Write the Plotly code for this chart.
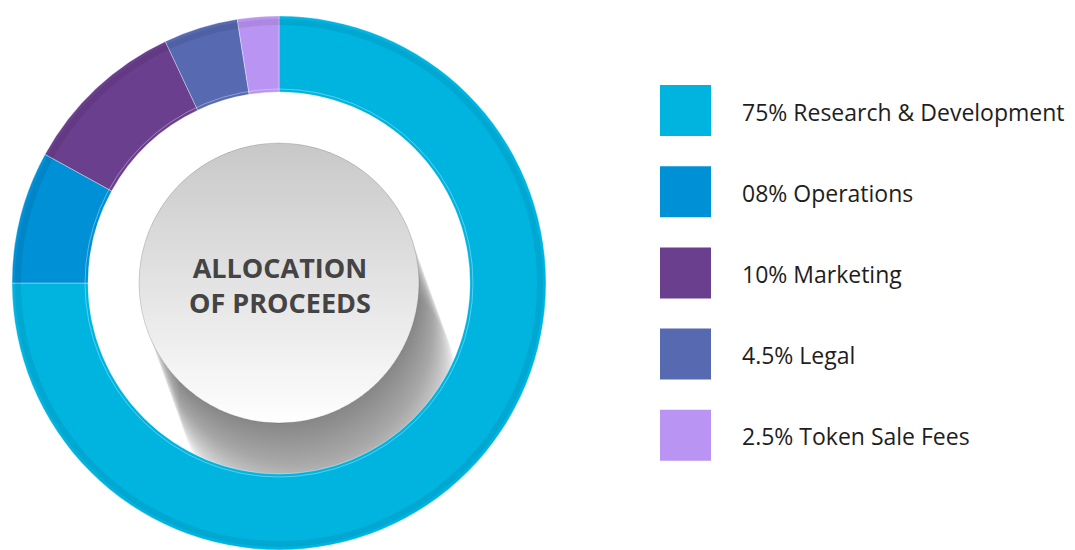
import math
import plotly.graph_objects as go

# ---------------- data ----------------
categories = ["Research & Development", "Operations", "Marketing", "Legal", "Token Sale Fees"]
values = [75, 8, 10, 4.5, 2.5]
legend_labels = ["75% Research & Development", "08% Operations", "10% Marketing",
                 "4.5% Legal", "2.5% Token Sale Fees"]
colors = ["#00b4e0", "#0090d5", "#6a3f8e", "#5669b1", "#b994f2"]
center_title = "ALLOCATION<br>OF PROCEEDS"

# ---------------- geometry (pixels) ----------------
W, H = 1075, 550
CX, CY = 279, 283
R_OUT = 267
R_IN = 191
R_DISC = 140

fig = go.Figure()

# invisible scatter to create pixel-based axes for decorations
fig.add_trace(go.Scatter(x=[0, W], y=[0, H], mode="markers",
                         marker=dict(opacity=0), hoverinfo="skip", showlegend=False))

fig.add_trace(go.Pie(
    labels=categories, values=values, sort=False, direction="clockwise", rotation=0,
    hole=R_IN / R_OUT,
    marker=dict(colors=colors, line=dict(color="rgba(255,255,255,0.35)", width=1)),
    textinfo="none", hoverinfo="label+percent", showlegend=False,
    domain=dict(x=[(CX - R_OUT) / W, (CX + R_OUT) / W],
                y=[(H - (CY + R_OUT)) / H, (H - (CY - R_OUT)) / H]),
))

shapes = []

# long cast shadow of the centre disc (stacked translucent circles)
N_SH = 45
L_SH = 118
dx, dy = 0.34, 0.94
for k in range(N_SH, 0, -1):
    t = L_SH * k / N_SH
    ox, oy = CX + dx * t, CY + dy * t
    shapes.append(dict(type="circle", xref="x", yref="y", layer="below",
                       x0=ox - R_DISC, x1=ox + R_DISC, y0=oy - R_DISC, y1=oy + R_DISC,
                       fillcolor="rgba(0,0,0,0.011)", line=dict(width=0)))

# gradient disc built from horizontal bands
N_B = 60
top_c, bot_c = (200, 200, 200), (254, 254, 254)
for i in range(N_B):
    y1 = CY - R_DISC + 2 * R_DISC * i / N_B
    y2 = CY - R_DISC + 2 * R_DISC * (i + 1) / N_B + 0.6
    y2 = min(y2, CY + R_DISC)
    f = (i + 0.5) / N_B
    col = tuple(round(top_c[j] + (bot_c[j] - top_c[j]) * f) for j in range(3))
    pts_r, pts_l = [], []
    for s in range(7):
        yy = y1 + (y2 - y1) * s / 6
        hx = math.sqrt(max(R_DISC ** 2 - (yy - CY) ** 2, 0))
        pts_r.append((CX + hx, yy))
        pts_l.append((CX - hx, yy))
    pts = pts_r + pts_l[::-1]
    path = "M " + " L ".join(f"{x:.2f},{y:.2f}" for x, y in pts) + " Z"
    shapes.append(dict(type="path", xref="x", yref="y", layer="below", path=path,
                       fillcolor=f"rgb{col}", line=dict(width=0)))
shapes.append(dict(type="circle", xref="x", yref="y", layer="below",
                   x0=CX - R_DISC, x1=CX + R_DISC, y0=CY - R_DISC, y1=CY + R_DISC,
                   line=dict(color="rgba(0,0,0,0.15)", width=1)))

# ring shading / rim
r_sh = R_OUT - 6
shapes.append(dict(type="circle", xref="x", yref="y", layer="above",
                   x0=CX - r_sh, x1=CX + r_sh, y0=CY - r_sh, y1=CY + r_sh,
                   line=dict(color="rgba(0,0,0,0.07)", width=6)))
r_il = R_IN + 3
shapes.append(dict(type="circle", xref="x", yref="y", layer="above",
                   x0=CX - r_il, x1=CX + r_il, y0=CY - r_il, y1=CY + r_il,
                   line=dict(color="rgba(255,255,255,0.35)", width=1)))

# legend squares
LEG_X0, LEG_SIZE = 660, 51
LEG_Y0, LEG_STEP = 85, 81.2
annotations = []
for i, (lab, col) in enumerate(zip(legend_labels, colors)):
    y0 = LEG_Y0 + LEG_STEP * i
    shapes.append(dict(type="rect", xref="x", yref="y", x0=LEG_X0, x1=LEG_X0 + LEG_SIZE,
                       y0=y0, y1=y0 + LEG_SIZE, fillcolor=col, line=dict(width=0)))
    annotations.append(dict(x=740, y=y0 + LEG_SIZE / 2 + 1, xref="x", yref="y", text=lab,
                            showarrow=False, xanchor="left", yanchor="middle",
                            font=dict(family="Open Sans", size=23, color="#1e1e1e")))

annotations.append(dict(x=CX + 1, y=CY + 2, xref="x", yref="y", text=center_title,
                        showarrow=False, xanchor="center", yanchor="middle", align="center",
                        font=dict(family="Open Sans", size=27, color="#444444", weight="bold")))

fig.update_layout(
    width=W, height=H, margin=dict(l=0, r=0, t=0, b=0),
    paper_bgcolor="white", plot_bgcolor="white",
    xaxis=dict(range=[0, W], visible=False, fixedrange=True),
    yaxis=dict(range=[H, 0], visible=False, fixedrange=True),
    shapes=shapes, annotations=annotations, showlegend=False,
)

fig.write_html("out.html")
